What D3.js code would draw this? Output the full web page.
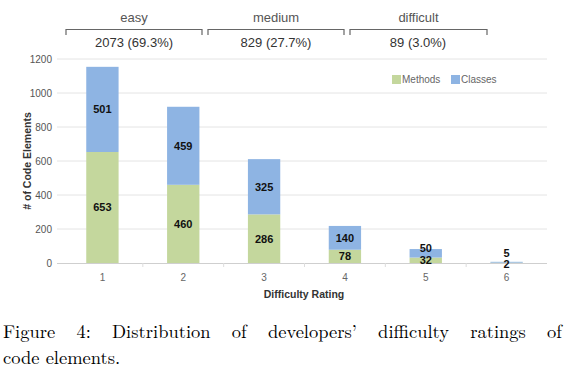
<!DOCTYPE html>
<html><head><meta charset="utf-8">
<script src="https://cdn.jsdelivr.net/npm/d3@7"></script>
<style>body{margin:0;background:#fff}</style>
</head><body>
<svg id="c" width="577" height="380"></svg>
<script>
const ratings = ["1","2","3","4","5","6"];
const methods = [653, 460, 286, 78, 32, 2];
const classes = [501, 459, 325, 140, 50, 5];
const yTicks = [0, 200, 400, 600, 800, 1000, 1200];
const groups = ["easy", "medium", "difficult"];
const groupTotals = ["2073 (69.3%)", "829 (27.7%)", "89 (3.0%)"];
const seriesNames = ["Methods", "Classes"];
const captionLine1 = "Figure 4: Distribution of developers’ difficulty ratings of";
const captionLine2 = "code elements.";

const svg = d3.select("#c");
const m = {l: 62, r: 547, t: 59, b: 263};
const x = d3.scaleBand().domain(ratings).range([m.l, m.r]).paddingInner(0.6).paddingOuter(0.3);
const y = d3.scaleLinear().domain([0, 1200]).range([m.b, m.t]);
const colors = ["#c4d79d", "#8eb4e3"];

// gridlines
svg.append("g").selectAll("line").data(yTicks.slice(1)).join("line")
  .attr("x1", 57).attr("x2", m.r).attr("y1", d => y(d)).attr("y2", d => y(d))
  .attr("stroke", "#e4e4e4").attr("stroke-width", 1);

// y axis labels
const yAx = svg.append("g").attr("transform", `translate(${54},0)`)
  .call(d3.axisLeft(y).tickValues(yTicks).tickFormat(d3.format("d")).tickSize(0).tickPadding(2));
yAx.select(".domain").remove();
yAx.selectAll("text").attr("font-family", "Liberation Sans, Arial, sans-serif")
  .attr("font-size", 10).attr("fill", "#555");

// x axis
svg.append("line").attr("x1", 57).attr("x2", m.r).attr("y1", m.b + 0.5).attr("y2", m.b + 0.5)
  .attr("stroke", "#cfcfcf");
const step = x.step();
const bounds = ratings.map(r => x(r) - (step - x.bandwidth()) / 2).slice(1);
svg.append("g").selectAll("line").data(bounds).join("line")
  .attr("x1", d => d).attr("x2", d => d).attr("y1", m.b).attr("y2", m.b + 4).attr("stroke", "#ddd");
svg.append("g").selectAll("text").data(ratings).join("text")
  .attr("x", d => x(d) + x.bandwidth() / 2).attr("y", 281).attr("text-anchor", "middle")
  .attr("font-family", "Liberation Sans, Arial, sans-serif").attr("font-size", 10).attr("fill", "#666")
  .text(d => d);

// stacked bars
const data = ratings.map((r, i) => ({r, m: methods[i], c: classes[i]}));
const stack = d3.stack().keys(["m", "c"])(data);
svg.append("g").selectAll("g").data(stack).join("g").attr("fill", (d, i) => colors[i])
  .selectAll("rect").data(d => d).join("rect")
  .attr("x", d => x(d.data.r)).attr("width", x.bandwidth())
  .attr("y", d => y(d[1])).attr("height", d => y(d[0]) - y(d[1]));

// data labels
const lab = svg.append("g").attr("font-family", "Liberation Sans, Arial, sans-serif")
  .attr("font-size", 11).attr("font-weight", "bold").attr("fill", "#111").attr("text-anchor", "middle");
stack.forEach((s, si) => {
  s.forEach(d => {
    let yy = y((d[0] + d[1]) / 2);
    if (si === 1) yy = Math.min(yy, y(d[0]) - 10);
    else yy = Math.max(yy, y(d[1]) + 1);
    lab.append("text").attr("x", x(d.data.r) + x.bandwidth() / 2).attr("y", yy)
      .attr("dy", "0.36em").text(si === 0 ? d.data.m : d.data.c);
  });
});

// legend
const lg = svg.append("g").attr("font-family", "Liberation Sans, Arial, sans-serif")
  .attr("font-size", 10).attr("fill", "#666");
const lx = [392, 451];
seriesNames.forEach((n, i) => {
  lg.append("rect").attr("x", lx[i]).attr("y", 75).attr("width", 9).attr("height", 9).attr("fill", colors[i]);
  lg.append("text").attr("x", lx[i] + 10).attr("y", 83).text(n);
});

// axis titles
svg.append("text").attr("x", 304).attr("y", 298).attr("text-anchor", "middle")
  .attr("font-family", "Liberation Sans, Arial, sans-serif").attr("font-size", 10.5)
  .attr("font-weight", "bold").attr("fill", "#333").text("Difficulty Rating");
svg.append("text").attr("transform", "translate(31,161) rotate(-90)").attr("text-anchor", "middle")
  .attr("font-family", "Liberation Sans, Arial, sans-serif").attr("font-size", 10.5)
  .attr("font-weight", "bold").attr("fill", "#333").text("# of Code Elements");

// group brackets
const gx = [[66, 202], [208, 344], [350, 487]];
const gcx = [134, 276, 418];
const topG = svg.append("g").attr("font-family", "Liberation Sans, Arial, sans-serif").attr("fill", "#444");
groups.forEach((g, i) => {
  const [a, b] = gx[i];
  topG.append("path").attr("d", `M${a},35V29.5H${b}V35`).attr("fill", "none").attr("stroke", "#666").attr("stroke-width", 1.2);
  topG.append("text").attr("x", (a + b) / 2).attr("y", 22).attr("text-anchor", "middle")
    .attr("font-size", 13).attr("fill", "#555").text(g);
  topG.append("text").attr("x", gcx[i]).attr("y", 47).attr("text-anchor", "middle")
    .attr("font-size", 13).attr("fill", "#333").text(groupTotals[i]);
});

// caption (justified first line)
const cap = svg.append("g").attr("font-family", "Latin Modern Roman, Liberation Serif, DejaVu Serif, serif")
  .attr("font-size", 18.5).attr("fill", "#000");
const words = captionLine1.split(" ");
const tmp = cap.append("text");
const widths = words.map(w => { tmp.text(w); return tmp.node().getComputedTextLength(); });
tmp.remove();
const left = 3, right = 562;
const total = d3.sum(widths);
const gap = (right - left - total) / (words.length - 1);
let cx = left;
words.forEach((w, i) => {
  cap.append("text").attr("x", cx).attr("y", 338).text(w);
  cx += widths[i] + gap;
});
cap.append("text").attr("x", left).attr("y", 364).text(captionLine2);
</script>
</body></html>
